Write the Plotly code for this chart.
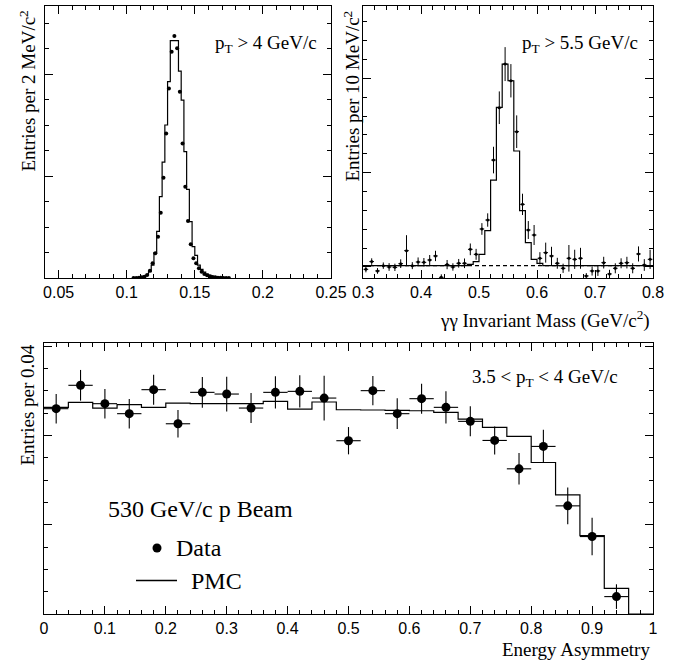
import plotly.graph_objects as go

W, H = 684, 660

# ---------------- Panel A: pi0 peak (top-left) ----------------
a_centers = [0.105, 0.107, 0.109, 0.111, 0.113, 0.115, 0.117, 0.119, 0.121, 0.123,
             0.125, 0.127, 0.129, 0.131, 0.133, 0.135, 0.137, 0.139, 0.141, 0.143,
             0.145, 0.147, 0.149, 0.151, 0.153, 0.155, 0.157, 0.159, 0.161, 0.163,
             0.165, 0.167, 0.169, 0.171, 0.173, 0.175]
a_data = [0, 0, 3, 7, 13, 29, 72, 144, 242, 405,
          641, 984, 1418, 1859, 2219, 2373, 2252, 1827, 1320, 895,
          559, 330, 193, 144, 95, 62, 39, 26, 16, 10,
          7, 3, 3, 1, 0, 0]
a_mc = [0, 3, 7, 10, 16, 29, 62, 127, 248, 458,
        797, 1137, 1500, 1925, 2327, 2327, 2327, 2029, 1745, 1239,
        869, 552, 307, 222, 127, 85, 59, 39, 26, 16,
        10, 7, 3, 0, 0, 0]
a_binw = 0.002
a_ticks = [0.05, 0.1, 0.15, 0.2, 0.25]
a_ticktext = ["0.05", "0.1", "0.15", "0.2", "0.25"]

# ---------------- Panel B: eta peak (top-right) ----------------
b_centers = [0.305, 0.315, 0.325, 0.335, 0.345, 0.355, 0.365, 0.375, 0.385, 0.395,
             0.405, 0.415, 0.425, 0.435, 0.445, 0.455, 0.465, 0.475, 0.485, 0.495,
             0.505, 0.515, 0.525, 0.535, 0.545, 0.555, 0.565, 0.575, 0.585, 0.595,
             0.605, 0.615, 0.625, 0.635, 0.645, 0.655, 0.665, 0.675, 0.685, 0.695,
             0.705, 0.715, 0.725, 0.735, 0.745, 0.755, 0.765, 0.775, 0.785, 0.795]
b_data = [97.5, 105.7, 95.8, 101.4, 100.0, 99.6, 103.5, 117.3, 101.4, 105.3,
          104.9, 107.4, 111.7, 89.0, 102.5, 100.0, 103.9, 103.9, 118.7, 113.4,
          140.3, 149.8, 213.4, 268.9, 315.2, 297.5, 243.5, 166.4, 139.2, 133.9,
          109.2, 115.2, 111.7, 103.9, 98.6, 109.2, 108.1, 109.2, 90.5, 95.8,
          95.8, 104.6, 92.6, 98.6, 103.9, 104.6, 98.6, 113.8, 102.1, 108.1]
b_err = [3.2, 3.5, 3.0, 3.4, 4.1, 3.9, 4.6, 16.4, 3.7, 4.8,
         4.6, 5.3, 5.5, 3.2, 4.9, 3.9, 4.6, 5.1, 6.2, 5.8,
         6.2, 7.1, 14.1, 17.3, 18.0, 17.7, 17.3, 11.3, 9.5, 10.6,
         6.5, 10.6, 9.7, 5.8, 4.9, 14.1, 10.2, 11.1, 3.0, 4.9,
         5.3, 6.2, 4.4, 5.3, 5.3, 6.2, 5.3, 8.0, 6.2, 10.2]
b_mc = [101.4, 101.4, 101.4, 101.4, 101.4, 101.4, 101.4, 101.4, 101.4, 101.4,
        101.4, 101.4, 101.4, 101.4, 101.4, 101.4, 101.4, 101.4, 102.8, 105.7,
        113.4, 138.5, 192.2, 269.3, 315.2, 297.5, 223.0, 159.7, 125.8, 108.1,
        103.9, 101.4, 101.4, 101.4, 101.4, 101.4, 101.4, 101.4, 101.4, 101.4,
        101.4, 101.4, 101.4, 101.4, 101.4, 101.4, 101.4, 101.4, 101.4, 101.4]
b_binw = 0.01
b_bkg = 101.4
b_ticks = [0.3, 0.4, 0.5, 0.6, 0.7, 0.8]
b_ticktext = ["0.3", "0.4", "0.5", "0.6", "0.7", "0.8"]

# ---------------- Panel C: energy asymmetry (bottom) ----------------
c_centers = [0.02, 0.06, 0.10, 0.14, 0.18, 0.22, 0.26, 0.30, 0.34, 0.38, 0.42, 0.46,
             0.50, 0.54, 0.58, 0.62, 0.66, 0.70, 0.74, 0.78, 0.82, 0.86, 0.90, 0.94, 0.98]
c_data = [2301, 2563, 2357, 2245, 2514, 2132, 2484, 2465, 2308, 2484, 2495, 2420,
          1942, 2503, 2245, 2413, 2316, 2159, 1945, 1627, 1878, 1212, 868, 195, None]
c_err = [165, 172, 165, 165, 168, 153, 172, 195, 168, 180, 180, 251,
         153, 165, 172, 168, 180, 168, 157, 176, 187, 206, 210, 138, 0]
c_mc = [2316, 2372, 2308, 2346, 2316, 2364, 2357, 2357, 2357, 2383, 2297, 2376,
        2289, 2286, 2282, 2278, 2260, 2185, 2091, 1990, 1698, 1336, 879, 288, 0]
c_binw = 0.04
c_ticks = [0, 0.1, 0.2, 0.3, 0.4, 0.5, 0.6, 0.7, 0.8, 0.9, 1]
c_ticktext = ["0", "0.1", "0.2", "0.3", "0.4", "0.5", "0.6", "0.7", "0.8", "0.9", "1"]


def steps(centers, vals, w):
    xs = [c - w / 2 for c in centers] + [centers[-1] + w / 2]
    ys = list(vals) + [vals[-1]]
    return xs, ys


SERIF = "Liberation Serif"
SANS = "Liberation Sans"
BLK = "black"

fig = go.Figure()

# Panel A
ax, ay = steps(a_centers, a_mc, a_binw)
fig.add_trace(go.Scatter(x=ax, y=ay, mode="lines", line=dict(shape="hv", color=BLK, width=1.2),
                         xaxis="x", yaxis="y", showlegend=False))
fig.add_trace(go.Scatter(x=a_centers, y=a_data, mode="markers",
                         marker=dict(color=BLK, size=4), xaxis="x", yaxis="y", showlegend=False))

# Panel B
fig.add_trace(go.Scatter(x=[b_ticks[0], b_ticks[-1]], y=[b_bkg, b_bkg], mode="lines",
                         line=dict(color=BLK, width=1.1, dash="4px,3px"),
                         xaxis="x2", yaxis="y2", showlegend=False))
bx, by = steps(b_centers, b_mc, b_binw)
fig.add_trace(go.Scatter(x=bx, y=by, mode="lines", line=dict(shape="hv", color=BLK, width=1.2),
                         xaxis="x2", yaxis="y2", showlegend=False))
fig.add_trace(go.Scatter(x=b_centers, y=b_data, mode="markers",
                         marker=dict(color=BLK, size=3),
                         error_y=dict(type="data", array=b_err, color=BLK, thickness=1, width=0),
                         error_x=dict(type="constant", value=b_binw * 0.4, color=BLK, thickness=1, width=0),
                         xaxis="x2", yaxis="y2", showlegend=False))

# Panel C
cx, cy = steps(c_centers, c_mc, c_binw)
fig.add_trace(go.Scatter(x=cx, y=cy, mode="lines", line=dict(shape="hv", color=BLK, width=1.2),
                         xaxis="x3", yaxis="y3", showlegend=False))
fig.add_trace(go.Scatter(x=c_centers, y=c_data, mode="markers",
                         marker=dict(color=BLK, size=9),
                         error_y=dict(type="data", array=c_err, color=BLK, thickness=1.1, width=0),
                         error_x=dict(type="constant", value=c_binw / 2, color=BLK, thickness=1.1, width=0),
                         xaxis="x3", yaxis="y3", showlegend=False))


def xaxis_cfg(domain, rng, tickvals, ticktext, minor_dtick, anchor):
    return dict(domain=domain, range=rng, tickmode="array", tickvals=tickvals, ticktext=ticktext,
                anchor=anchor, automargin=False,
                showline=True, linecolor=BLK, linewidth=1.3, mirror="ticks",
                ticks="inside", ticklen=8, tickwidth=1, tickcolor=BLK,
                showgrid=False, zeroline=False,
                tickfont=dict(family=SANS, size=16, color=BLK),
                minor=dict(tickmode="linear", tick0=0, dtick=minor_dtick, ticks="inside",
                           ticklen=4, tickwidth=1, tickcolor=BLK, showgrid=False))


def yaxis_cfg(domain, rng, dtick, minor_dtick, anchor, tick0=0):
    return dict(domain=domain, range=rng, tickmode="linear", tick0=tick0, dtick=dtick,
                showticklabels=False, anchor=anchor, automargin=False,
                showline=True, linecolor=BLK, linewidth=1.3, mirror="ticks",
                ticks="inside", ticklen=8, tickwidth=1, tickcolor=BLK,
                showgrid=False, zeroline=False,
                minor=dict(tickmode="linear", tick0=tick0, dtick=minor_dtick, ticks="inside",
                           ticklen=4, tickwidth=1, tickcolor=BLK, showgrid=False))


def dx(p):
    return p / W


def dy(p):
    return 1 - p / H


top_dom = [dy(278), dy(6)]
bot_dom = [dy(614), dy(343)]

fig.update_layout(
    template="none",
    width=W, height=H, margin=dict(l=0, r=0, t=0, b=0, autoexpand=False),
    paper_bgcolor="white", plot_bgcolor="white",
    xaxis=xaxis_cfg([dx(45), dx(331)], [0.04, 0.25], a_ticks, a_ticktext, 0.01, "y"),
    yaxis=yaxis_cfg(top_dom, [0, 2667], 1000, 250, "x"),
    xaxis2=xaxis_cfg([dx(363), dx(653)], [0.3, 0.8], b_ticks, b_ticktext, 0.02, "y2"),
    yaxis2=yaxis_cfg(top_dom, [88.3, 376.8], 100, 20, "x2"),
    xaxis3=xaxis_cfg([dx(44), dx(653)], [0, 1], c_ticks, c_ticktext, 0.02, "y3"),
    yaxis3=yaxis_cfg(bot_dom, [0, 3037], 1000, 250, "x3"),
)

ann = []


def text(x, y, s, size=19, xanchor="left", yanchor="middle", angle=0):
    ann.append(dict(x=dx(x), y=dy(y), xref="paper", yref="paper", text=s, showarrow=False,
                    xanchor=xanchor, yanchor=yanchor, textangle=angle,
                    font=dict(family=SERIF, size=size, color=BLK)))


text(27, 9, "Entries per 2 MeV/c<sup>2</sup>", xanchor="center", yanchor="top", angle=-90)
text(351, 9, "Entries per 10 MeV/c<sup>2</sup>", xanchor="center", yanchor="top", angle=-90)
text(27, 343, "Entries per 0.04", xanchor="center", yanchor="top", angle=-90)
text(213, 44, "p<sub>T</sub> &gt; 4 GeV/c")
text(520, 44, "p<sub>T</sub> &gt; 5.5 GeV/c")
text(470, 378, "3.5 &lt; p<sub>T</sub> &lt; 4 GeV/c")
text(652, 319, "γγ Invariant Mass (GeV/c<sup>2</sup>)", xanchor="right")
text(652, 649, "Energy Asymmetry", xanchor="right")
text(106, 509, "530 GeV/c p Beam", size=24)
text(174, 548, "Data", size=24)
text(189, 581, "PMC", size=24)
fig.update_layout(annotations=ann)

fig.update_layout(shapes=[
    dict(type="circle", xref="paper", yref="paper", x0=dx(152.5), x1=dx(161.5), y0=dy(552.5), y1=dy(543.5),
         fillcolor=BLK, line=dict(color=BLK, width=0)),
    dict(type="line", xref="paper", yref="paper", x0=dx(136), x1=dx(177), y0=dy(580.5), y1=dy(580.5),
         line=dict(color=BLK, width=1.3)),
])

fig.write_html("out.html")
